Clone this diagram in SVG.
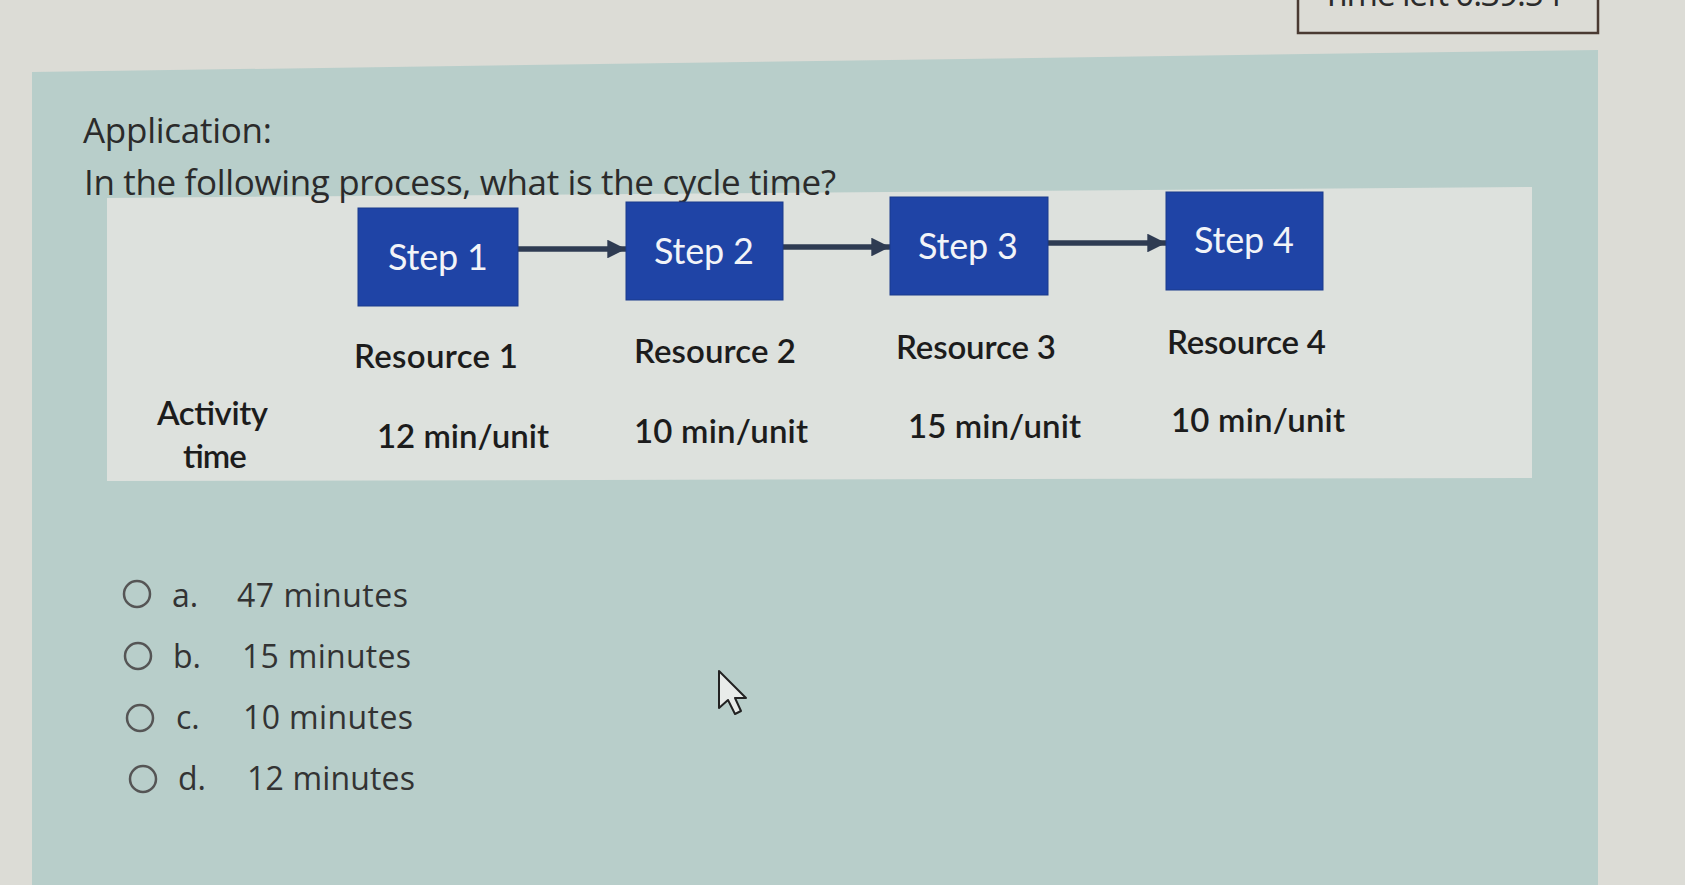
<svg xmlns="http://www.w3.org/2000/svg" width="1685" height="885" viewBox="0 0 1685 885">
<defs>
<marker id="ah" viewBox="0 0 10 10" refX="10" refY="5" markerWidth="3.4" markerHeight="3.4" orient="auto" markerUnits="strokeWidth">
<path d="M0,0 L10,5 L0,10 z" fill="#2e3b52"/>
</marker>
<style>
.ui{font-family:"Open Sans","Liberation Sans",sans-serif;fill:#2b2b2b}
.dg{font-family:Lato,"Open Sans","Liberation Sans",sans-serif;fill:#1c1c1c;font-size:33px;font-weight:600}
.step rect{fill:#1f44a6;stroke:#1a3a8c;stroke-width:1}
.step text{font-family:Lato,"Open Sans","Liberation Sans",sans-serif;fill:#f2f4f8;font-size:36px;text-anchor:middle}
.conn line{stroke:#2e3b52;stroke-width:5.5;marker-end:url(#ah)}
.opt circle{fill:none;stroke:#555;stroke-width:2.5}
.opt text{font-family:"Open Sans","Liberation Sans",sans-serif;fill:#333;font-size:32px}
</style>
</defs>
<rect x="0" y="0" width="1685" height="885" fill="#dcdcd6"/>
<g id="timer">
<rect x="1298" y="-40" width="300" height="73" fill="none" stroke="#4a3a32" stroke-width="2.5"/>
<text class="ui" x="1322" y="6" font-size="34" textLength="240">Time left 0:39:54</text>
</g>
<polygon points="32,72 1598,50 1598,885 32,885" fill="#b8ceca"/>
<polygon points="107,198 1532,187 1532,478 107,481" fill="#dde1dd"/>
<text class="ui" x="83" y="143" font-size="35" textLength="189">Application:</text>
<text class="ui" x="84" y="195" font-size="35" textLength="752">In the following process, what is the cycle time?</text>
<g class="conn" id="connectors">
<line x1="518" y1="249" x2="626" y2="249"/>
<line x1="783" y1="247" x2="890" y2="247"/>
<line x1="1048" y1="243" x2="1166" y2="243"/>
</g>
<g class="step" id="step1"><rect x="358" y="208" width="160" height="98"/><text x="438" y="270" textLength="100">Step 1</text></g>
<g class="step" id="step2"><rect x="626" y="202" width="157" height="98"/><text x="704" y="264" textLength="100">Step 2</text></g>
<g class="step" id="step3"><rect x="890" y="197" width="158" height="98"/><text x="968" y="259" textLength="100">Step 3</text></g>
<g class="step" id="step4"><rect x="1166" y="192" width="157" height="98"/><text x="1244" y="253" textLength="100">Step 4</text></g>
<g id="resources">
<text class="dg" x="354" y="368" textLength="164">Resource 1</text>
<text class="dg" x="634" y="363" textLength="162">Resource 2</text>
<text class="dg" x="896" y="359" textLength="160">Resource 3</text>
<text class="dg" x="1167" y="354" textLength="159">Resource 4</text>
</g>
<g id="activity">
<text class="dg" x="157" y="425" textLength="111">Activity</text>
<text class="dg" x="182" y="468" textLength="64">time</text>
<text class="dg" x="377" y="448" textLength="172">12 min/unit</text>
<text class="dg" x="634" y="443" textLength="174">10 min/unit</text>
<text class="dg" x="908" y="438" textLength="173">15 min/unit</text>
<text class="dg" x="1171" y="432" textLength="174">10 min/unit</text>
</g>
<g class="opt" id="optA"><circle cx="137" cy="594" r="13"/><text x="172" y="607">a.</text><text x="237" y="607" textLength="171">47 minutes</text></g>
<g class="opt" id="optB"><circle cx="138" cy="656" r="13"/><text x="173" y="668">b.</text><text x="242" y="668" textLength="169">15 minutes</text></g>
<g class="opt" id="optC"><circle cx="140" cy="718" r="13"/><text x="176" y="729">c.</text><text x="243" y="729" textLength="170">10 minutes</text></g>
<g class="opt" id="optD"><circle cx="143" cy="779" r="13"/><text x="178" y="790">d.</text><text x="247" y="790" textLength="168">12 minutes</text></g>
<path d="M719,671 L719,708 L728,700 L735,714 L741,711 L735,698 L746,698 Z" fill="#e8ecea" stroke="#222" stroke-width="2" stroke-linejoin="round"/>
</svg>
